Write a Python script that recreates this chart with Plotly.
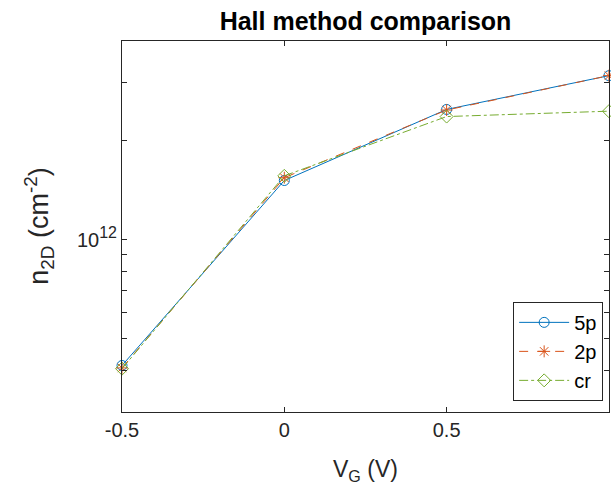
import plotly.graph_objects as go

vg = [-0.5, 0.0, 0.5, 1.0]
n_5p = [4.15e11, 1.51e12, 2.48e12, 3.14e12]
n_2p = [4.08e11, 1.54e12, 2.47e12, 3.14e12]
n_cr = [4.06e11, 1.56e12, 2.36e12, 2.45e12]

series_names = ["5p", "2p", "cr"]
ytick_vals = [3e11, 4e11, 5e11, 6e11, 7e11, 8e11, 9e11, 1e12, 2e12, 3e12, 4e12]
ytick_text = ["", "", "", "", "", "", "",
              "10<sup><span style='font-size:16px'>12</span></sup>", "", "", ""]
xtick_vals = [-0.5, 0, 0.5, 1]
xtick_text = ["-0.5", "0", "0.5", "1"]

FONT = "Liberation Sans, Arial, Helvetica, sans-serif"
AX = "#262626"

fig = go.Figure()
styles = [
    dict(color="#0072BD", dash="solid", symbol="circle-open"),
    dict(color="#D95319", dash="dash", symbol="asterisk-open"),
    dict(color="#77AC30", dash="dashdot", symbol="diamond-open"),
]
for name, ys, st in zip(series_names, [n_5p, n_2p, n_cr], styles):
    fig.add_trace(go.Scatter(
        x=vg, y=ys, name=name, mode="lines+markers",
        line=dict(color=st["color"], dash=st["dash"], width=1),
        marker=dict(symbol=st["symbol"], size=10, color=st["color"],
                    line=dict(color=st["color"], width=1)),
        cliponaxis=False,
    ))

fig.update_layout(
    width=611, height=496,
    margin=dict(l=122, r=2, t=41, b=84, autoexpand=False),
    paper_bgcolor="white", plot_bgcolor="white",
    font=dict(family=FONT, size=16, color=AX),
    title=dict(text="<b>Hall method comparison</b>", x=365.5 / 611, xanchor="center",
               xref="container",
               y=1 - 21 / 496, yanchor="middle", yref="container",
               font=dict(size=25, color="black")),
    showlegend=True,
    legend=dict(x=0.988, xanchor="right", y=0.03, yanchor="bottom",
                bordercolor=AX, borderwidth=1, bgcolor="white",
                font=dict(size=20, color="black"), itemwidth=50,
                tracegroupgap=0),
    annotations=[
        dict(text="V<sub>G</sub> (V)", xref="paper", yref="paper",
             x=0.5, y=-0.158, xanchor="center", yanchor="middle", showarrow=False,
             font=dict(size=23, color=AX)),
        dict(text="n<sub>2D</sub> (cm<sup>-2</sup>)", xref="paper", yref="paper",
             x=-0.172, y=0.5, xanchor="center", yanchor="middle", showarrow=False,
             textangle=-90, font=dict(size=27, color=AX)),
    ],
)
fig.update_xaxes(
    range=[-0.5, 1.0002], tickvals=xtick_vals, ticktext=xtick_text,
    ticks="inside", ticklen=5, tickcolor=AX, mirror="allticks",
    showline=True, linecolor=AX, linewidth=1, showgrid=False, zeroline=False,
    tickfont=dict(size=20, color=AX), automargin=False,
)
fig.update_yaxes(
    type="log", range=[11.477, 12.602], tickvals=ytick_vals, ticktext=ytick_text,
    ticks="inside", ticklen=5, tickcolor=AX, mirror="allticks",
    showline=True, linecolor=AX, linewidth=1, showgrid=False, zeroline=False,
    tickfont=dict(size=20, color=AX), automargin=False,
)
fig.write_html("out.html", config={"displayModeBar": False},
               post_script="document.body.style.margin='0';document.body.style.overflow='hidden';")
